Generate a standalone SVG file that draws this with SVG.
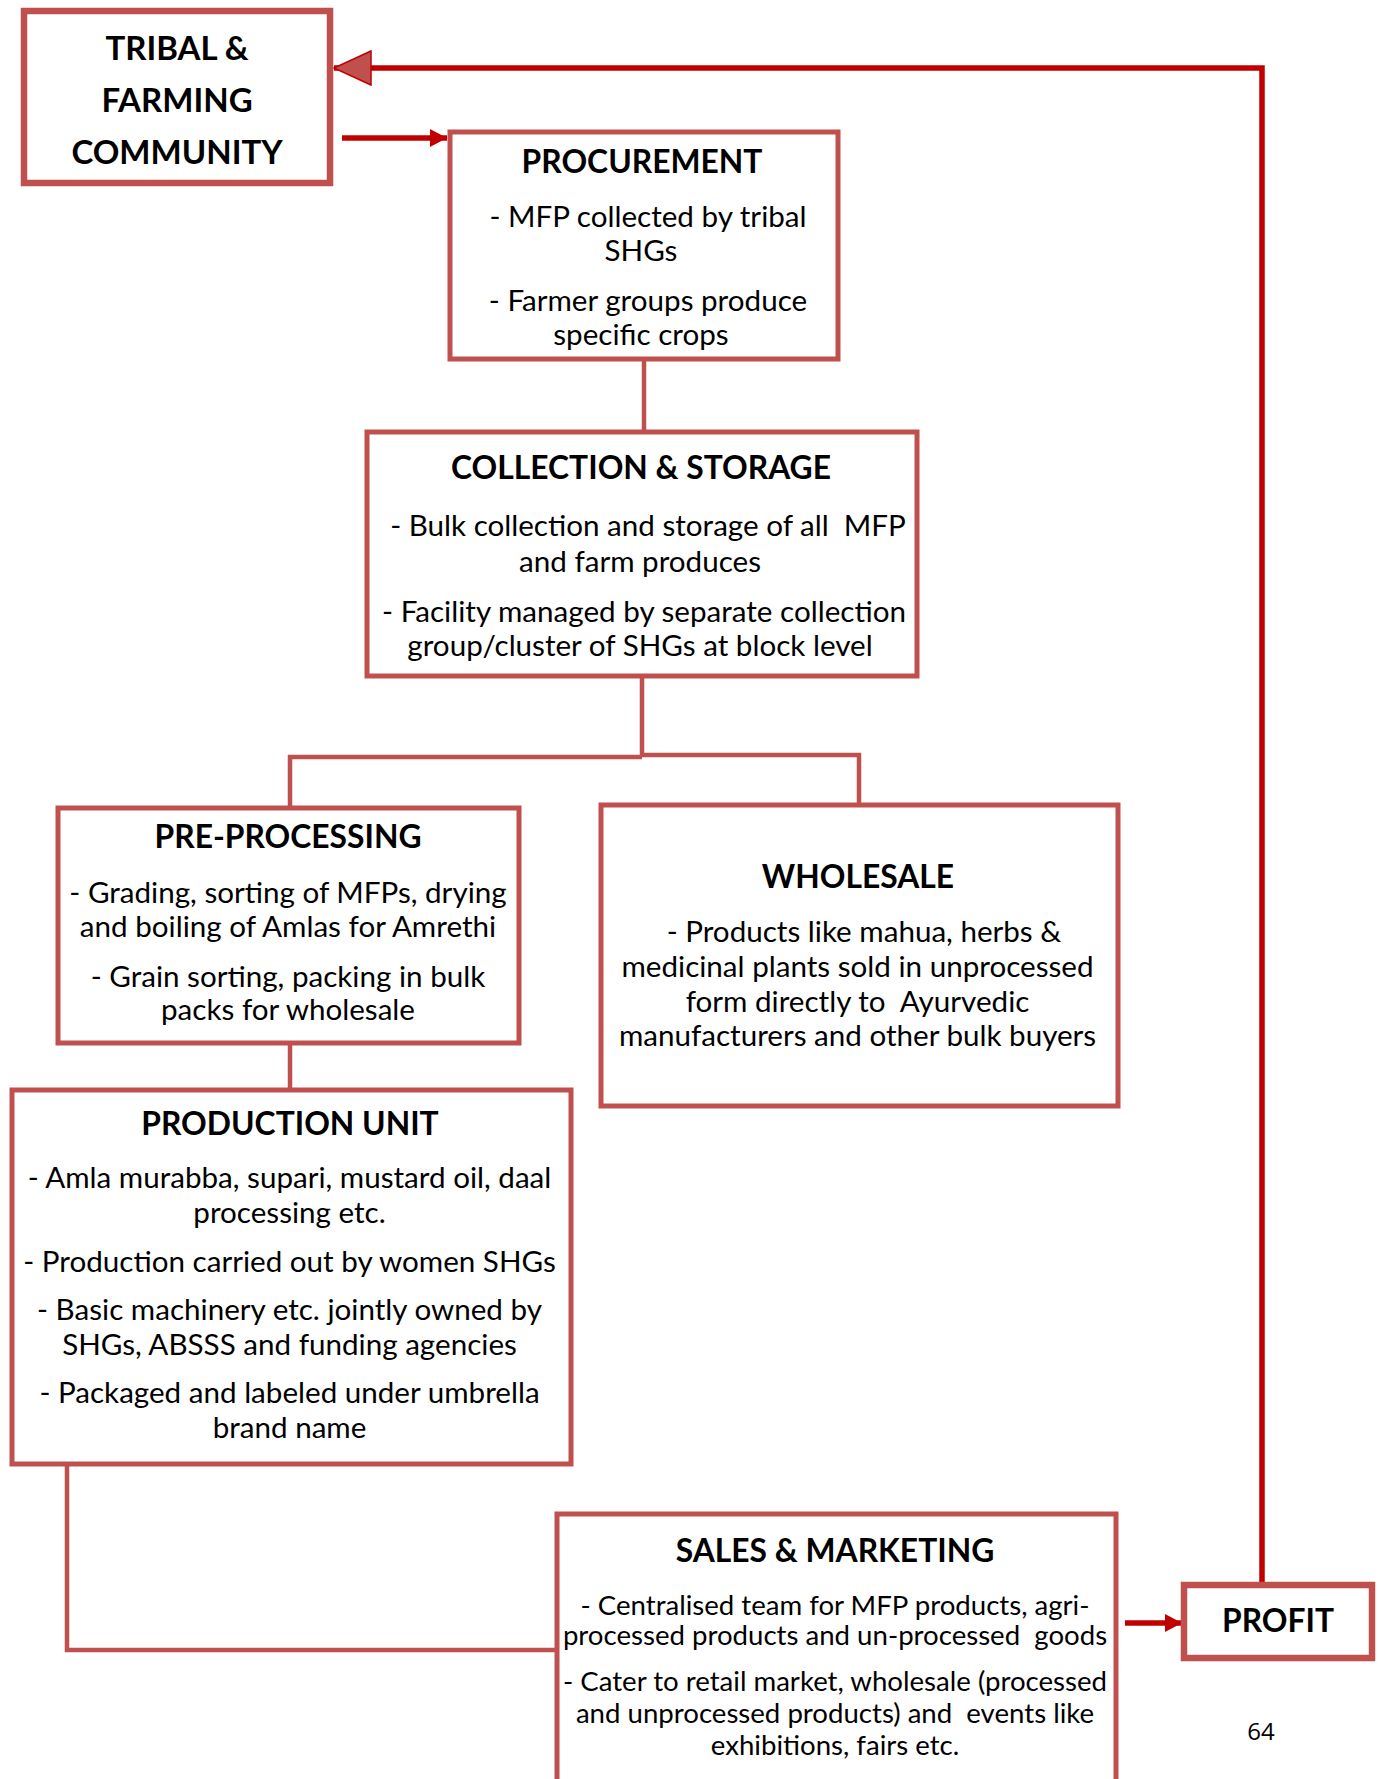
<svg xmlns="http://www.w3.org/2000/svg" width="1379" height="1779" viewBox="0 0 1379 1779">
<style>
.box{fill:#fff;stroke:#c0504d;stroke-width:5}
.thick{stroke-width:6.5}
.t{font-family:Lato,"Liberation Sans",sans-serif;font-weight:bold;font-size:31.8px;fill:#000;text-anchor:middle}
.tt{font-size:33px}
.b{font-family:Lato,"Liberation Sans",sans-serif;font-size:29.6px;fill:#000;text-anchor:middle;white-space:pre}
.s{font-size:27.6px}
.tree{fill:none;stroke:#c0504d;stroke-width:4.5}
.red{fill:none;stroke:#c00000;stroke-width:5.5}
.pg{font-family:"Open Sans","Liberation Sans",sans-serif;font-size:24px;fill:#000;text-anchor:middle}
</style>
<defs>
<marker id="ah" markerUnits="userSpaceOnUse" markerWidth="20" markerHeight="20" refX="17" refY="9" orient="auto" viewBox="0 0 20 18">
<path d="M0,0 L17,9 L0,18 Z" fill="#c00000"/>
</marker>
<marker id="big" markerUnits="userSpaceOnUse" markerWidth="40" markerHeight="40" refX="38" refY="18" orient="auto" viewBox="0 0 40 36">
<path d="M1,1 L38,18 L1,35 Z" fill="#c0504d" stroke="#c00000" stroke-width="1.5"/>
</marker>
</defs>
<rect width="1379" height="1779" fill="#fff"/>
<g id="connectors">
<path class="tree" d="M644,361 V432"/>
<path class="tree" d="M642,677 V757 M288,757 H642 M642,755 H859 V805 M290,755 V808"/>
<path class="tree" d="M290,1043 V1090"/>
<path class="tree" d="M67,1465 V1650 H557"/>
<path class="red" d="M1262,1582 V68 H334" marker-end="url(#big)"/>
<path class="red" d="M342,138 H447" marker-end="url(#ah)"/>
<path class="red" d="M1125,1623 H1182" marker-end="url(#ah)"/>
</g>
<g id="tribal">
<rect class="box thick" x="24" y="11" width="306" height="172"/>
<text class="t tt" x="177" y="60">TRIBAL &amp;</text>
<text class="t tt" x="177" y="112">FARMING</text>
<text class="t tt" x="177" y="164">COMMUNITY</text>
</g>
<g id="procurement">
<rect class="box" x="450" y="132" width="388" height="227"/>
<text class="t" x="642" y="173">PROCUREMENT</text>
<text class="b" x="648" y="227">- MFP collected by tribal</text>
<text class="b" x="641" y="261">SHGs</text>
<text class="b" x="648" y="311">- Farmer groups produce</text>
<text class="b" x="641" y="345">specific crops</text>
</g>
<g id="collection">
<rect class="box" x="367" y="432" width="550" height="244"/>
<text class="t" x="641" y="479">COLLECTION &amp; STORAGE</text>
<text class="b" x="648" y="536" xml:space="preserve">- Bulk collection and storage of all  MFP</text>
<text class="b" x="640" y="572">and farm produces</text>
<text class="b" x="644" y="622">- Facility managed by separate collection</text>
<text class="b" x="640" y="656">group/cluster of SHGs at block level</text>
</g>
<g id="preprocessing">
<rect class="box" x="58" y="808" width="461" height="235"/>
<text class="t" x="288" y="848">PRE-PROCESSING</text>
<text class="b" x="288" y="903">- Grading, sorting of MFPs, drying</text>
<text class="b" x="288" y="937">and boiling of Amlas for Amrethi</text>
<text class="b" x="288" y="987">- Grain sorting, packing in bulk</text>
<text class="b" x="288" y="1020">packs for wholesale</text>
</g>
<g id="wholesale">
<rect class="box" x="601" y="805" width="517" height="301"/>
<text class="t" x="858" y="888">WHOLESALE</text>
<text class="b" x="864" y="942">- Products like mahua, herbs &amp;</text>
<text class="b" x="857.5" y="977">medicinal plants sold in unprocessed</text>
<text class="b" x="857.5" y="1012" xml:space="preserve">form directly to  Ayurvedic</text>
<text class="b" x="857.5" y="1046">manufacturers and other bulk buyers</text>
</g>
<g id="production">
<rect class="box" x="12" y="1090" width="559" height="374"/>
<text class="t" x="290" y="1135">PRODUCTION UNIT</text>
<text class="b" x="289.5" y="1188">- Amla murabba, supari, mustard oil, daal</text>
<text class="b" x="289.5" y="1223">processing etc.</text>
<text class="b" x="289.5" y="1272">- Production carried out by women SHGs</text>
<text class="b" x="289.5" y="1320">- Basic machinery etc. jointly owned by</text>
<text class="b" x="289.5" y="1355">SHGs, ABSSS and funding agencies</text>
<text class="b" x="289.5" y="1403">- Packaged and labeled under umbrella</text>
<text class="b" x="289.5" y="1438">brand name</text>
</g>
<g id="sales">
<rect class="box" x="557" y="1514" width="559" height="290"/>
<text class="t" x="835" y="1562">SALES &amp; MARKETING</text>
<text class="b s" x="835" y="1615">- Centralised team for MFP products, agri-</text>
<text class="b s" x="835" y="1645" xml:space="preserve">processed products and un-processed  goods</text>
<text class="b s" x="835" y="1691">- Cater to retail market, wholesale (processed</text>
<text class="b s" x="835" y="1723" xml:space="preserve">and unprocessed products) and  events like</text>
<text class="b s" x="835" y="1755">exhibitions, fairs etc.</text>
</g>
<g id="profit">
<rect class="box thick" x="1184" y="1585" width="188" height="73"/>
<text class="t" x="1278" y="1632">PROFIT</text>
</g>
<text class="pg" x="1261" y="1740">64</text>
</svg>
